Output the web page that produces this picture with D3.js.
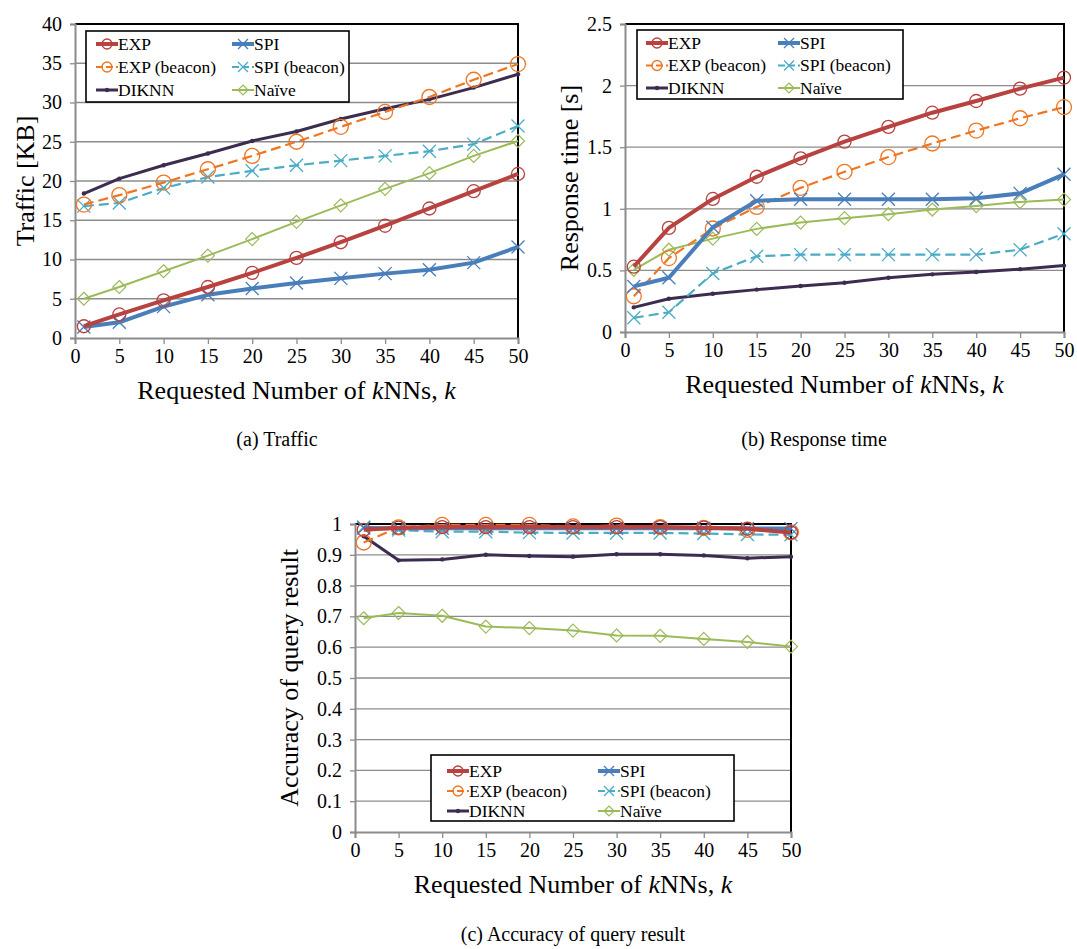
<!DOCTYPE html>
<html>
<head>
<meta charset="utf-8">
<script src="https://cdn.jsdelivr.net/npm/d3@7"></script>
<style>
  html, body { margin: 0; padding: 0; background: #fff; }
  svg text { font-family: "Liberation Serif", "Times New Roman", serif !important; }
</style>
</head>
<body>
<svg id="fig" width="1077" height="949"></svg>
<script>
// Requested number of kNNs
const kValues = [1, 5, 10, 15, 20, 25, 30, 35, 40, 45, 50];
const xTicks = [0, 5, 10, 15, 20, 25, 30, 35, 40, 45, 50];

const seriesNames = ["EXP", "SPI", "EXP (beacon)", "SPI (beacon)", "DIKNN", "Naïve"];

// (a) Traffic [KB]
const trafficEXP       = [1.5, 3.0, 4.8, 6.5, 8.3, 10.2, 12.2, 14.3, 16.5, 18.7, 20.9];
const trafficSPI       = [1.4, 2.0, 4.0, 5.5, 6.3, 7.0, 7.6, 8.2, 8.7, 9.6, 11.6];
const trafficEXPBeacon = [17.0, 18.2, 19.8, 21.5, 23.2, 25.0, 26.9, 28.8, 30.7, 32.9, 34.9];
const trafficSPIBeacon = [16.8, 17.2, 19.1, 20.5, 21.3, 22.0, 22.6, 23.2, 23.8, 24.7, 27.0];
const trafficDIKNN     = [18.4, 20.3, 22.0, 23.5, 25.1, 26.3, 27.9, 29.2, 30.4, 31.9, 33.6];
const trafficNaive     = [5.0, 6.5, 8.5, 10.5, 12.6, 14.8, 16.9, 19.0, 21.0, 23.2, 25.1];
const trafficTicks     = [0, 5, 10, 15, 20, 25, 30, 35, 40];

// (b) Response time [s]
const timeEXP       = [0.53, 0.845, 1.08, 1.26, 1.41, 1.545, 1.665, 1.78, 1.875, 1.975, 2.065];
const timeSPI       = [0.37, 0.44, 0.85, 1.065, 1.078, 1.078, 1.078, 1.078, 1.085, 1.125, 1.28];
const timeEXPBeacon = [0.29, 0.60, 0.84, 1.015, 1.17, 1.30, 1.42, 1.53, 1.635, 1.735, 1.825];
const timeSPIBeacon = [0.115, 0.16, 0.475, 0.615, 0.628, 0.628, 0.628, 0.628, 0.628, 0.668, 0.798];
const timeDIKNN     = [0.20, 0.27, 0.31, 0.344, 0.373, 0.40, 0.44, 0.468, 0.487, 0.51, 0.539];
const timeNaive     = [0.505, 0.668, 0.758, 0.837, 0.888, 0.924, 0.956, 0.994, 1.022, 1.056, 1.075];
const timeTicks     = [0, 0.5, 1, 1.5, 2, 2.5];

// (c) Accuracy of query result
const accEXP       = [0.981, 0.988, 0.99, 0.99, 0.99, 0.99, 0.99, 0.99, 0.988, 0.985, 0.972];
const accSPI       = [0.987, 0.986, 0.986, 0.986, 0.986, 0.986, 0.986, 0.986, 0.986, 0.985, 0.985];
const accEXPBeacon = [0.94, 0.989, 0.997, 0.997, 0.997, 0.992, 0.995, 0.99, 0.987, 0.981, 0.973];
const accSPIBeacon = [0.99, 0.98, 0.975, 0.975, 0.972, 0.971, 0.971, 0.971, 0.969, 0.966, 0.965];
const accDIKNN     = [0.96, 0.882, 0.885, 0.90, 0.896, 0.894, 0.902, 0.902, 0.898, 0.889, 0.894];
const accNaive     = [0.694, 0.711, 0.702, 0.667, 0.662, 0.654, 0.638, 0.637, 0.627, 0.617, 0.602];
const accTicks     = [0, 0.1, 0.2, 0.3, 0.4, 0.5, 0.6, 0.7, 0.8, 0.9, 1];

// Visual style of each series
const styles = {
  "EXP":          { color: "#B7423F", width: 4,   dash: null,   marker: "circle",  size: 6.5 },
  "SPI":          { color: "#4A7EBB", width: 4,   dash: null,   marker: "x",       size: 6.5 },
  "EXP (beacon)": { color: "#EE7623", width: 2.2, dash: "10,5", marker: "circle",  size: 7.5 },
  "SPI (beacon)": { color: "#4BACC6", width: 2.2, dash: "10,5", marker: "x",       size: 6.5 },
  "DIKNN":        { color: "#3B2C50", width: 3,   dash: null,   marker: "dot",     size: 2.2 },
  "Naïve":        { color: "#9BBB59", width: 2,   dash: null,   marker: "diamond", size: 6.5 }
};

const FONT = "Liberation Serif, Times New Roman, serif";
const svg = d3.select("#fig").attr("font-family", FONT);

function drawMarker(g, type, x, y, s, color) {
  if (type === "circle") {
    g.append("circle").attr("cx", x).attr("cy", y).attr("r", s)
      .attr("fill", "none").attr("stroke", color).attr("stroke-width", 1.3);
  } else if (type === "x") {
    g.append("path")
      .attr("d", `M${x - s},${y - s}L${x + s},${y + s}M${x - s},${y + s}L${x + s},${y - s}`)
      .attr("stroke", color).attr("stroke-width", 1.3).attr("fill", "none");
  } else if (type === "diamond") {
    g.append("path")
      .attr("d", `M${x},${y - s}L${x + s},${y}L${x},${y + s}L${x - s},${y}Z`)
      .attr("fill", "none").attr("stroke", color).attr("stroke-width", 1.2);
  } else if (type === "dot") {
    g.append("circle").attr("cx", x).attr("cy", y).attr("r", s).attr("fill", color);
  }
}

function drawPanel(p) {
  const x = d3.scaleLinear().domain([0, 50]).range([p.left, p.right]);
  const y = d3.scaleLinear().domain([p.yTicks[0], p.yTicks[p.yTicks.length - 1]]).range([p.bottom, p.top]);
  const g = svg.append("g");

  // horizontal gridlines
  g.append("g").selectAll("line").data(p.yTicks.slice(1)).join("line")
    .attr("x1", p.left).attr("x2", p.right)
    .attr("y1", d => y(d)).attr("y2", d => y(d))
    .attr("stroke", "#8c8c8c").attr("stroke-width", 1.3);

  // plot frame: top and right edges in black
  g.append("path")
    .attr("d", `M${p.left},${p.top}H${p.right}V${p.bottom}`)
    .attr("fill", "none").attr("stroke", "#000").attr("stroke-width", 2);

  // y axis
  const yAxis = d3.axisLeft(y).tickValues(p.yTicks).tickSize(5).tickPadding(8)
    .tickFormat(d3.format(""));
  const ya = g.append("g").attr("transform", `translate(${p.left},0)`).call(yAxis)
    .attr("font-family", FONT);
  ya.select(".domain").attr("stroke", "#8c8c8c").attr("stroke-width", 2);
  ya.selectAll(".tick line").attr("stroke", "#8c8c8c").attr("stroke-width", 1.3);
  ya.selectAll(".tick text").attr("font-size", 20).attr("fill", "#000");

  // x axis
  const xAxis = d3.axisBottom(x).tickValues(xTicks).tickSize(6).tickPadding(5);
  const xa = g.append("g").attr("transform", `translate(0,${p.bottom})`).call(xAxis)
    .attr("font-family", FONT);
  xa.select(".domain").attr("stroke", "#8c8c8c").attr("stroke-width", 2);
  xa.selectAll(".tick line").attr("stroke", "#8c8c8c").attr("stroke-width", 1.3);
  xa.selectAll(".tick text").attr("font-size", 20).attr("fill", "#000");

  // series
  const line = d3.line().x((d, i) => x(kValues[i])).y(d => y(d));
  const order = ["Naïve", "DIKNN", "SPI (beacon)", "EXP (beacon)", "SPI", "EXP"];
  order.forEach(name => {
    const st = styles[name];
    const vals = p.series[name];
    g.append("path").datum(vals).attr("d", line)
      .attr("fill", "none").attr("stroke", st.color).attr("stroke-width", st.width)
      .attr("stroke-dasharray", st.dash).attr("stroke-linejoin", "round");
    const mg = g.append("g");
    vals.forEach((v, i) => drawMarker(mg, st.marker, x(kValues[i]), y(v), st.size, st.color));
  });

  // legend
  const L = p.legend;
  const lg = g.append("g");
  lg.append("rect").attr("x", L.x).attr("y", L.y).attr("width", L.w).attr("height", L.h)
    .attr("fill", "#fff").attr("stroke", "#000").attr("stroke-width", 1.6);
  seriesNames.forEach((name, i) => {
    const st = styles[name];
    const col = i % 2, row = Math.floor(i / 2);
    const sx = L.x + L.padX + col * L.colW;
    const sy = L.y + L.row0 + row * L.rowH;
    lg.append("line").attr("x1", sx).attr("x2", sx + 22).attr("y1", sy).attr("y2", sy)
      .attr("stroke", st.color).attr("stroke-width", st.width)
      .attr("stroke-dasharray", st.dash ? "7,3" : null);
    drawMarker(lg, st.marker, sx + 11, sy, st.marker === "dot" ? st.size : 5, st.color);
    lg.append("text").attr("x", sx + 22).attr("y", sy).attr("dy", "0.34em")
      .attr("font-size", 17.5).text(name);
  });

  // axis titles
  const xt = g.append("text").attr("x", (p.left + p.right) / 2).attr("y", p.bottom + 61)
    .attr("text-anchor", "middle").attr("font-size", 26);
  xt.append("tspan").text("Requested Number of ");
  xt.append("tspan").attr("font-style", "italic").text("k");
  xt.append("tspan").text("NNs, ");
  xt.append("tspan").attr("font-style", "italic").text("k");

  g.append("text")
    .attr("transform", `translate(${p.yTitleX},${(p.top + p.bottom) / 2}) rotate(-90)`)
    .attr("text-anchor", "middle").attr("font-size", 26).text(p.yTitle);

  // caption
  g.append("text").attr("x", p.capX).attr("y", p.capY).attr("text-anchor", "middle")
    .attr("font-size", 20).text(p.caption);
}

drawPanel({
  left: 75, right: 518, top: 24, bottom: 338,
  yTicks: trafficTicks,
  series: { "EXP": trafficEXP, "SPI": trafficSPI, "EXP (beacon)": trafficEXPBeacon,
            "SPI (beacon)": trafficSPIBeacon, "DIKNN": trafficDIKNN, "Naïve": trafficNaive },
  legend: { x: 86, y: 31, w: 263, h: 71, padX: 10, colW: 136, row0: 13, rowH: 23 },
  yTitle: "Traffic [KB]", yTitleX: 34,
  caption: "(a) Traffic", capX: 277, capY: 446
});

drawPanel({
  left: 625, right: 1064, top: 24, bottom: 332,
  yTicks: timeTicks,
  series: { "EXP": timeEXP, "SPI": timeSPI, "EXP (beacon)": timeEXPBeacon,
            "SPI (beacon)": timeSPIBeacon, "DIKNN": timeDIKNN, "Naïve": timeNaive },
  legend: { x: 637, y: 30, w: 266, h: 69, padX: 9, colW: 132, row0: 13, rowH: 22.5 },
  yTitle: "Response time [s]", yTitleX: 578,
  caption: "(b) Response time", capX: 814, capY: 446
});

drawPanel({
  left: 355, right: 791, top: 524, bottom: 832,
  yTicks: accTicks,
  series: { "EXP": accEXP, "SPI": accSPI, "EXP (beacon)": accEXPBeacon,
            "SPI (beacon)": accSPIBeacon, "DIKNN": accDIKNN, "Naïve": accNaive },
  legend: { x: 431, y: 755, w: 303, h: 66, padX: 16, colW: 151, row0: 16, rowH: 20 },
  yTitle: "Accuracy of query result", yTitleX: 298,
  caption: "(c) Accuracy of query result", capX: 573, capY: 941
});
</script>
</body>
</html>
